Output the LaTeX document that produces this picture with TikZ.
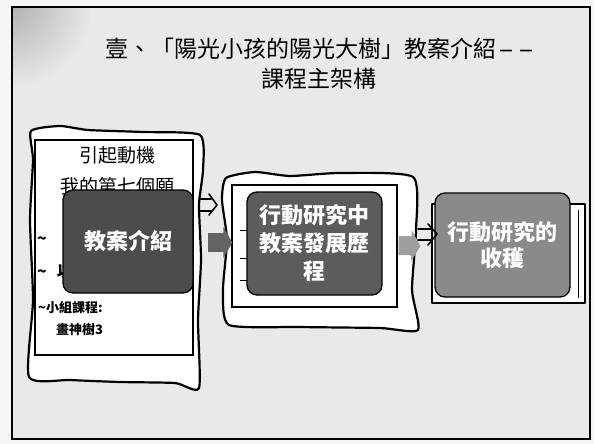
\documentclass[tikz,border=0pt]{standalone}
\usepackage{fontspec}
\usepackage{graphicx}
\setmainfont{Noto Sans CJK TC}
\usetikzlibrary{arrows.meta,calc}
\definecolor{bgc}{RGB}{233,233,233}
\definecolor{outc}{RGB}{246,246,246}
\definecolor{boxa}{RGB}{76,76,76}
\definecolor{boxb}{RGB}{92,92,92}
\definecolor{boxc}{RGB}{138,138,138}
\definecolor{arra}{RGB}{100,100,100}
\definecolor{arrb}{RGB}{158,158,158}
\begin{document}
\begin{tikzpicture}[x=1pt,y=-1pt,
  hand/.style={draw=black,line width=2.2pt,fill=white,line join=round},
  panel/.style={draw=black,line width=1.2pt},
  bigbox/.style={draw=black,line width=1.3pt,rounded corners=10pt,minimum width=131pt,minimum height=103pt,text=white,font=\bfseries\fontsize{22}{28}\selectfont,align=center,inner sep=2pt},
  slidetxt/.style={font=\fontsize{19}{22}\selectfont,inner sep=0pt},
  smalltxt/.style={font=\bfseries\fontsize{13}{15}\selectfont,inner sep=0pt,anchor=west},
  tildetxt/.style={font=\bfseries\fontsize{16}{18}\selectfont,inner sep=0pt,anchor=west},
  titletxt/.style={font=\fontsize{23}{26}\selectfont,inner sep=0pt},
  blockarrow/.style={line width=19pt,-{Triangle[width=31pt,length=9pt]}},
  sketch/.style={line width=1.6pt,line cap=round,line join=round}]
\useasboundingbox (0,0) rectangle (594,444);
\fill[outc] (0,0) rectangle (594,444);
\fill[bgc] (12,7) rectangle (590,439);
\begin{scope}
\clip (12,7) rectangle (590,439);
\shade[inner color=gray!60,outer color=bgc] (12,7) circle (80pt);
\end{scope}
\draw[line width=2pt] (12,7) rectangle (590,439);

% title
\node[titletxt,anchor=west] (t1) at (105,49) {壹、「陽光小孩的陽光大樹」教案介紹\makebox[20pt]{\scalebox{2}[1]{-}}\makebox[20pt]{\scalebox{2}[1]{-}}};
\node[titletxt] (t2) at (319,79) {課程主架構};

% left hand-drawn slide
\draw[hand] plot[smooth cycle,tension=0.35] coordinates {(31,131) (60,126) (88,130) (143,132) (200,135) (203,170) (199,205) (201,260) (198,320) (199,388) (175,383) (120,382) (70,380) (29,377) (33,300) (30,220) (33,160)};
\draw[panel] (35,140) rectangle (193,355);
\node[slidetxt] (l1) at (117,155) {引起動機};
\node[slidetxt] (l2) at (117,186) {我的第七個願};
\node[tildetxt] (l3) at (37,238) {\textasciitilde\hspace{17pt}教};
\node[tildetxt] (l4) at (37,272) {\textasciitilde\hspace{10pt}以};
\node[smalltxt] (l5) at (38,308) {\textasciitilde 小組課程:};
\node[smalltxt] (l6) at (56,330) {畫神樹3};

% middle hand-drawn slide
\draw[hand] plot[smooth cycle,tension=0.35] coordinates {(226,178) (255,172) (290,176) (340,173) (413,177) (416,230) (412,290) (418,330) (380,328) (300,327) (229,325) (223,290) (227,240) (222,200)};
\draw[panel] (232,185) rectangle (397,307);
\foreach \yy in {230,258,280} \draw[line width=1pt] (240,\yy) -- (247,\yy);

% right slide frame
\draw[hand,line width=1.8pt] (432,204) rectangle (585,303);
\draw[line width=1pt] (578,210) -- (578,298);

% main boxes
\node[bigbox,fill=boxa,minimum width=130pt] (b1) at (128,241.5) {教案介紹};
\node[bigbox,fill=boxb,minimum width=135pt] (b2) at (314.5,243.5) {行動研究中\\教案發展歷\\程};
\node[bigbox,fill=boxc,minimum width=135pt,minimum height=104pt,font=\bfseries\fontsize{22}{26}\selectfont] (b3) at (502.5,245) {行動研究的\\收穫};

% block arrows
\draw[blockarrow,arra] ($(b1.east)+(14,1)$) -- ($(b2.west)+(-14,-1)$);
\draw[blockarrow,arrb] ($(b2.east)+(16,2)$) -- ($(b3.west)+(-14,1)$);

% small sketched arrows
\coordinate (sa1) at (199,199);
\coordinate (sa2) at (199,211);
\coordinate (sat) at (217,205);
\draw[sketch] (sa1) -- (211,199) (sa2) -- (211,211) (209,194) -- (sat) -- (209,215);
\coordinate (sb1) at (418,229);
\coordinate (sb2) at (418,240);
\coordinate (sbt) at (437,234);
\draw[sketch] (sb1) -- (431,229) (sb2) -- (431,240) (428,224) -- (sbt) -- (428,245);
\end{tikzpicture}
\end{document}
